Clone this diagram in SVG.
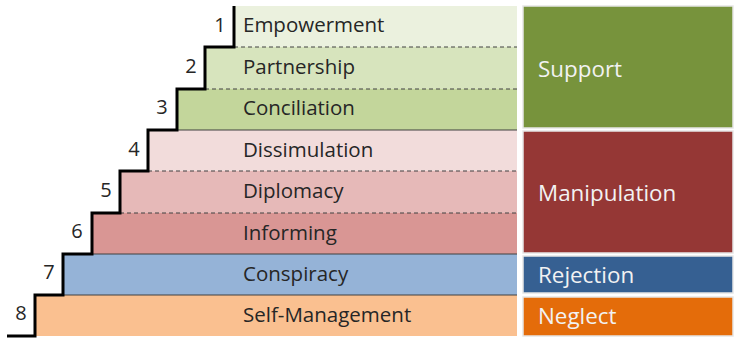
<svg xmlns="http://www.w3.org/2000/svg" width="740" height="343" viewBox="0 0 740 343">
<style>
.lbl{font-family:"Open Sans","Liberation Sans",sans-serif;font-size:20.5px;fill:#262626}
.num{font-family:"Open Sans","Liberation Sans",sans-serif;font-size:20px;fill:#262626;text-anchor:middle}
.cat{font-family:"Open Sans","Liberation Sans",sans-serif;font-size:22.4px;fill:#F2F2F2}
.dash{stroke:#404040;stroke-width:1;stroke-dasharray:4 3}
.solid{stroke:#404040;stroke-width:1.2}
.box{stroke:#E6E6E6;stroke-width:1.5}
</style>
<rect width="740" height="343" fill="#FFFFFF"/>
<g id="row1"><rect x="234" y="6" width="283" height="41" fill="#EBF1DE"/><text class="lbl" x="243" y="31.5">Empowerment</text><text class="num" x="220" y="31.5">1</text></g>
<g id="row2"><rect x="205" y="47" width="312" height="42" fill="#D7E4BD"/><text class="lbl" x="243" y="74">Partnership</text><text class="num" x="191" y="73">2</text></g>
<g id="row3"><rect x="177" y="89" width="340" height="41" fill="#C3D69B"/><text class="lbl" x="243" y="115">Conciliation</text><text class="num" x="162" y="114">3</text></g>
<g id="row4"><rect x="148" y="130" width="369" height="41" fill="#F2DCDB"/><text class="lbl" x="243" y="157">Dissimulation</text><text class="num" x="134" y="156">4</text></g>
<g id="row5"><rect x="120" y="171" width="397" height="42" fill="#E6B9B8"/><text class="lbl" x="243" y="198">Diplomacy</text><text class="num" x="106" y="197">5</text></g>
<g id="row6"><rect x="92" y="213" width="425" height="41" fill="#D99694"/><text class="lbl" x="243" y="240">Informing</text><text class="num" x="77" y="238">6</text></g>
<g id="row7"><rect x="63" y="254" width="454" height="41" fill="#95B3D7"/><text class="lbl" x="243" y="281">Conspiracy</text><text class="num" x="49" y="279">7</text></g>
<g id="row8"><rect x="35" y="295" width="482" height="41" fill="#FAC090"/><text class="lbl" x="243" y="322">Self-Management</text><text class="num" x="21" y="320">8</text></g>
<g id="support"><rect class="box" x="523" y="6" width="210" height="122" fill="#77933C"/><text class="cat" x="538" y="77">Support</text></g>
<g id="manipulation"><rect class="box" x="523" y="131" width="210" height="122" fill="#953735"/><text class="cat" x="538" y="200.5">Manipulation</text></g>
<g id="rejection"><rect class="box" x="523" y="256" width="210" height="37" fill="#366092"/><text class="cat" x="538" y="283">Rejection</text></g>
<g id="neglect"><rect class="box" x="523" y="297" width="210" height="39" fill="#E46C0A"/><text class="cat" x="538" y="324">Neglect</text></g>
<g id="connectors" fill="none">
<line class="dash" x1="234" y1="47" x2="517" y2="47"/>
<line class="dash" x1="205" y1="89" x2="517" y2="89"/>
<line class="solid" x1="177" y1="130" x2="517" y2="130"/>
<line class="dash" x1="148" y1="171" x2="517" y2="171"/>
<line class="dash" x1="120" y1="213" x2="517" y2="213"/>
<line class="solid" x1="92" y1="254" x2="517" y2="254"/>
<line class="solid" x1="63" y1="295" x2="517" y2="295"/>
<polyline points="234,6 234,47 205,47 205,89 177,89 177,130 148,130 148,171 120,171 120,213 92,213 92,254 63,254 63,295 35,295 35,336 7,336" stroke="#000000" stroke-width="3" stroke-linejoin="miter"/>
</g>
</svg>
